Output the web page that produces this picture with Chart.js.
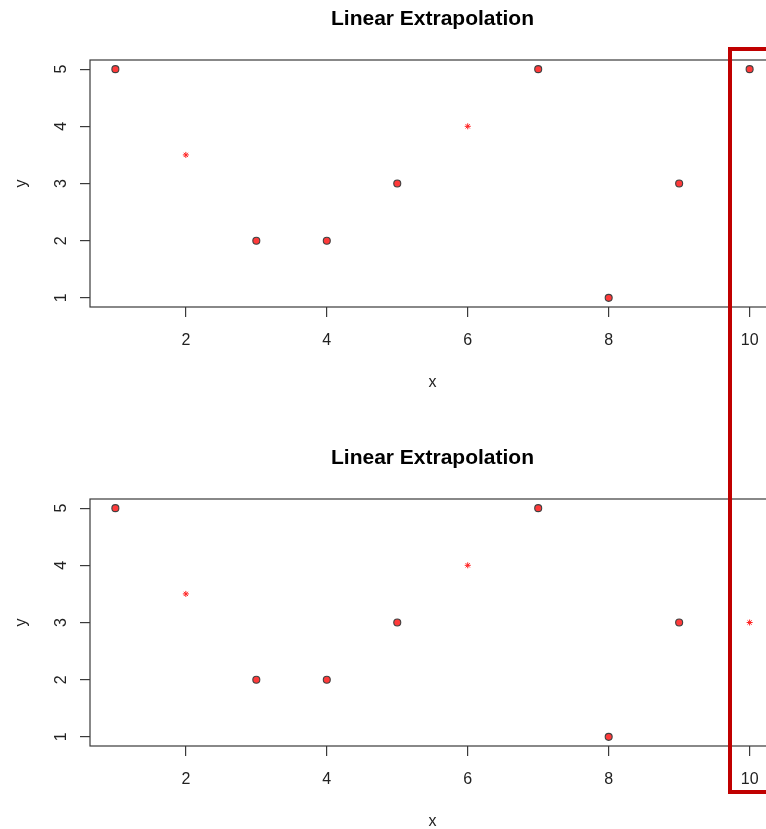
<!DOCTYPE html>
<html>
<head>
<meta charset="utf-8">
<script src="https://cdn.jsdelivr.net/npm/chart.js@4/dist/chart.umd.min.js"></script>
<style>
  html, body { margin: 0; padding: 0; background: #ffffff; }
  body { width: 766px; height: 829px; overflow: hidden; position: relative; }
  .panel { position: absolute; left: 0; width: 800px; height: 440px; }
  #p1 { top: 0px; }
  #p2 { top: 439px; }
  #highlight {
    position: absolute; left: 728px; top: 47px; width: 120px; height: 747px;
    box-sizing: border-box; border: 4px solid #c00000; pointer-events: none;
  }
</style>
</head>
<body>
<div class="panel" id="p1"><canvas id="c1" width="800" height="440"></canvas></div>
<div class="panel" id="p2"><canvas id="c2" width="800" height="440"></canvas></div>
<div id="highlight"></div>
<script>
// ---- data ----
const TITLE = 'Linear Extrapolation';
const X_LABEL = 'x';
const Y_LABEL = 'y';
const X_TICKS = [2, 4, 6, 8, 10];
const Y_TICKS = [1, 2, 3, 4, 5];

// top panel: observed values and linearly interpolated values
const TOP_OBS_X = [1, 3, 4, 5, 7, 8, 9, 10];
const TOP_OBS_Y = [5, 2, 2, 3, 5, 1, 3, 5];
const TOP_EST_X = [2, 6];
const TOP_EST_Y = [3.5, 4];

// bottom panel: observed values and interpolated / extrapolated values
const BOT_OBS_X = [1, 3, 4, 5, 7, 8, 9];
const BOT_OBS_Y = [5, 2, 2, 3, 5, 1, 3];
const BOT_EST_X = [2, 6, 10];
const BOT_EST_Y = [3.5, 4, 3];

// axis extents (R style 4% expansion of data range)
const X_MIN = 0.64, X_MAX = 10.36;
const Y_MIN = 0.84, Y_MAX = 5.16;

const FONT = "'Liberation Sans', Arial, sans-serif";

const boxPlugin = {
  id: 'rbox',
  beforeDatasetsDraw(chart) {
    const a = chart.chartArea;
    const ctx = chart.ctx;
    ctx.save();
    ctx.strokeStyle = '#3a3a3a';
    ctx.lineWidth = 1.2;
    ctx.strokeRect(a.left, a.top, a.right - a.left, a.bottom - a.top);
    ctx.restore();
  }
};

function pts(xs, ys) { return xs.map((x, i) => ({ x: x, y: ys[i] })); }

function makeChart(id, obsX, obsY, estX, estY) {
  return new Chart(document.getElementById(id), {
    type: 'scatter',
    data: {
      datasets: [
        {
          data: pts(obsX, obsY),
          pointStyle: 'circle',
          pointRadius: 3.5,
          backgroundColor: '#ff3a3a',
          borderColor: '#404040',
          borderWidth: 1.1
        },
        {
          data: pts(estX, estY),
          pointStyle: 'star',
          pointRadius: 3,
          backgroundColor: '#ff2020',
          borderColor: '#ff2020',
          borderWidth: 1
        }
      ]
    },
    options: {
      responsive: false,
      animation: false,
      events: [],
      layout: { padding: { left: 0, right: 25, top: 0, bottom: 0 } },
      plugins: {
        legend: { display: false },
        tooltip: { enabled: false },
        title: {
          display: true,
          text: TITLE,
          fullSize: false,
          color: '#000000',
          font: { family: FONT, size: 21, weight: 'bold' },
          padding: { top: 7, bottom: 27.8 }
        }
      },
      scales: {
        x: {
          type: 'linear',
          min: X_MIN, max: X_MAX,
          afterBuildTicks(s) { s.ticks = X_TICKS.map(v => ({ value: v })); },
          afterFit(s) { s.height = 133; },
          grid: { display: true, drawOnChartArea: false, drawTicks: true, tickLength: 10, tickColor: '#3a3a3a', lineWidth: 1.2 },
          border: { display: false },
          ticks: {
            autoSkip: false, maxRotation: 0, minRotation: 0,
            padding: 14, color: '#222222',
            font: { family: FONT, size: 16 }
          },
          title: {
            display: true, text: X_LABEL, color: '#222222',
            font: { family: FONT, size: 16 },
            padding: { top: 0, bottom: 48 }
          }
        },
        y: {
          type: 'linear',
          min: Y_MIN, max: Y_MAX,
          afterBuildTicks(s) { s.ticks = Y_TICKS.map(v => ({ value: v })); },
          afterFit(s) { s.width = 90; },
          grid: { display: true, drawOnChartArea: false, drawTicks: true, tickLength: 10, tickColor: '#3a3a3a', lineWidth: 1.2 },
          border: { display: false },
          ticks: {
            autoSkip: false, minRotation: 90, maxRotation: 90,
            crossAlign: 'center',
            padding: 13.5, color: '#222222',
            font: { family: FONT, size: 16 }
          },
          title: {
            display: true, text: Y_LABEL, color: '#222222',
            font: { family: FONT, size: 16 },
            padding: { top: 11.5, bottom: 0 }
          }
        }
      }
    },
    plugins: [boxPlugin]
  });
}

makeChart('c1', TOP_OBS_X, TOP_OBS_Y, TOP_EST_X, TOP_EST_Y);
makeChart('c2', BOT_OBS_X, BOT_OBS_Y, BOT_EST_X, BOT_EST_Y);
</script>
</body>
</html>
